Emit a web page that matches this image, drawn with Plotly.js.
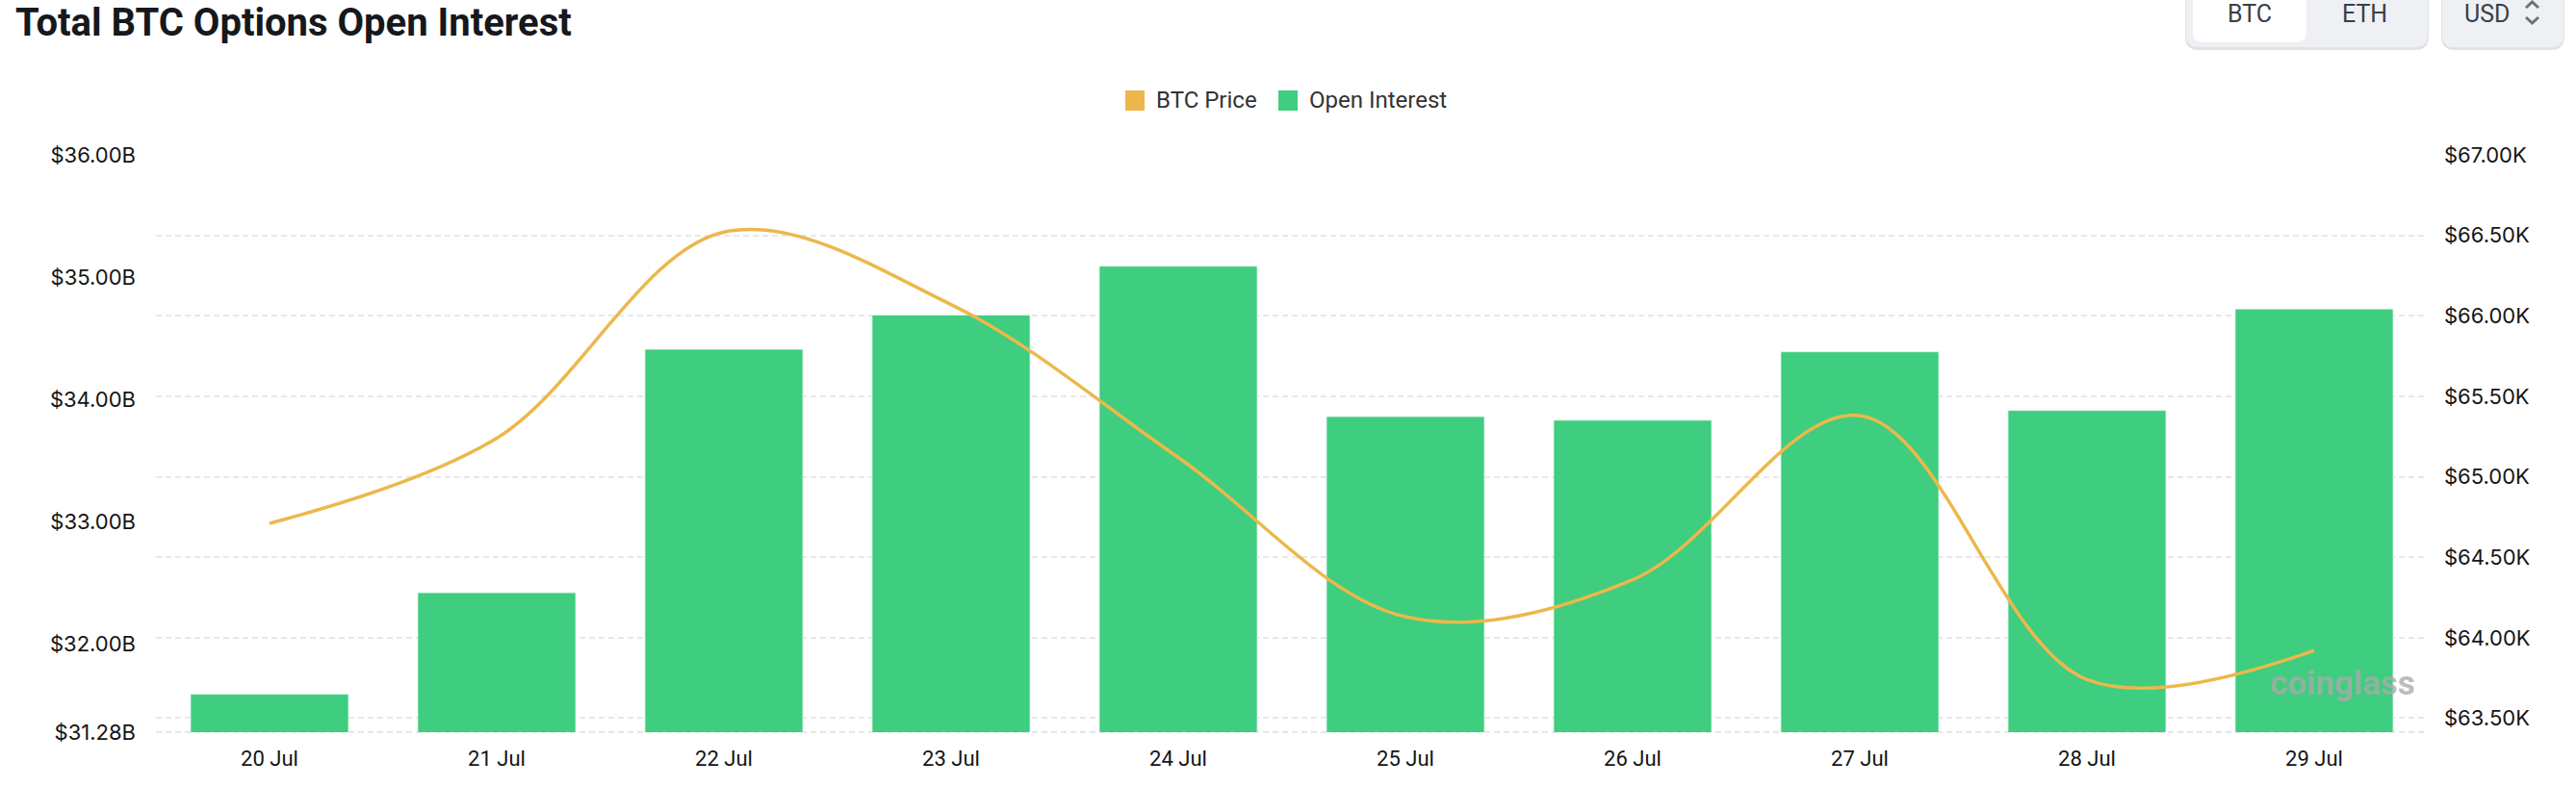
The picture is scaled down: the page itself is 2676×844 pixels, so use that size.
<!DOCTYPE html>
<html>
<head>
<meta charset="utf-8">
<script src="https://cdn.plot.ly/plotly-3.0.1.min.js"></script>
<style>
  html, body { margin: 0; padding: 0; background: #fff; }
  #chart { width: 2676px; height: 844px; }
</style>
</head>
<body>
<div id="chart"></div>
<script>
// ---- data ----
const dates = ["20 Jul", "21 Jul", "22 Jul", "23 Jul", "24 Jul", "25 Jul", "26 Jul", "27 Jul", "28 Jul", "29 Jul"];
const openInterestB = [31.59, 32.42, 34.41, 34.69, 35.09, 33.86, 33.83, 34.39, 33.91, 34.74];   // $ billions
const btcPriceK = [64.71, 65.24, 66.52, 66.07, 65.12, 64.13, 64.36, 65.38, 63.74, 63.92];       // $ thousands
const leftTickVals = [31.28, 32, 33, 34, 35, 36];
const leftTickText = ["$31.28B", "$32.00B", "$33.00B", "$34.00B", "$35.00B", "$36.00B"];
const rightTickVals = [63.5, 64, 64.5, 65, 65.5, 66, 66.5, 67];
const rightTickText = ["$63.50K", "$64.00K", "$64.50K", "$65.00K", "$65.50K", "$66.00K", "$66.50K", "$67.00K"];
const seriesNames = ["BTC Price", "Open Interest"];
const titleText = "Total BTC Options Open Interest";

// ---- layout helpers ----
const W = 2676, H = 844;
const M = { l: 162, r: 154, t: 161, b: 83 };
const PW = W - M.l - M.r, PH = H - M.t - M.b;
const px = x => (x - M.l) / PW;
const py = y => (H - M.b - y) / PH;
function rrect(x0, y0, x1, y1, r) {
  const p = (x, y) => px(x) + ',' + py(y);
  return 'M' + p(x0 + r, y0) + ' L' + p(x1 - r, y0) + ' Q' + p(x1, y0) + ' ' + p(x1, y0 + r) +
    ' L' + p(x1, y1 - r) + ' Q' + p(x1, y1) + ' ' + p(x1 - r, y1) +
    ' L' + p(x0 + r, y1) + ' Q' + p(x0, y1) + ' ' + p(x0, y1 - r) +
    ' L' + p(x0, y0 + r) + ' Q' + p(x0, y0) + ' ' + p(x0 + r, y0) + ' Z';
}
const GREEN = '#3fcd7f', ORANGE = '#ecb84b';
const gridDash = '6px,4px';

const traces = [
  {
    type: 'bar', x: dates, y: openInterestB, name: seriesNames[1],
    marker: { color: GREEN, line: { width: 1, color: 'rgba(220,245,230,0.8)' } },
    yaxis: 'y', showlegend: false, hoverinfo: 'skip'
  },
  {
    type: 'scatter', mode: 'lines', x: dates, y: btcPriceK, name: seriesNames[0],
    line: { color: ORANGE, width: 3.5, shape: 'spline', smoothing: 1 },
    yaxis: 'y2', showlegend: false, hoverinfo: 'skip'
  }
];

const tickFont = { family: 'Inter, Roboto, sans-serif', size: 22, color: '#151515' };

const shapes = [
  // bottom dashed axis line
  { type: 'line', xref: 'paper', yref: 'paper', x0: 0, x1: 1, y0: 0, y1: 0,
    line: { color: '#e6e6e6', width: 2, dash: gridDash }, layer: 'below' },
  // legend squares
  { type: 'rect', xref: 'paper', yref: 'paper', x0: px(1169), x1: px(1189), y0: py(115), y1: py(94),
    fillcolor: ORANGE, line: { width: 0 } },
  { type: 'rect', xref: 'paper', yref: 'paper', x0: px(1328), x1: px(1348), y0: py(115), y1: py(94),
    fillcolor: GREEN, line: { width: 0 } },
  // BTC / ETH toggle group
  { type: 'path', xref: 'paper', yref: 'paper', path: rrect(2270, -14, 2523, 52, 14),
    fillcolor: '#dfe3e8', line: { width: 0 } },
  { type: 'path', xref: 'paper', yref: 'paper', path: rrect(2271, -14, 2522, 49, 13),
    fillcolor: '#eef0f3', line: { width: 0 } },
  { type: 'path', xref: 'paper', yref: 'paper', path: rrect(2278, -14, 2396, 44, 11),
    fillcolor: '#ffffff', line: { width: 0 } },
  // USD selector
  { type: 'path', xref: 'paper', yref: 'paper', path: rrect(2536, -14, 2664, 52, 14),
    fillcolor: '#dfe3e8', line: { width: 0 } },
  { type: 'path', xref: 'paper', yref: 'paper', path: rrect(2537, -14, 2663, 49, 13),
    fillcolor: '#eef0f3', line: { width: 0 } },
  // chevrons
  { type: 'path', xref: 'paper', yref: 'paper',
    path: 'M' + px(2624) + ',' + py(8) + ' L' + px(2630.5) + ',' + py(2) + ' L' + px(2637) + ',' + py(8),
    line: { color: '#6b717c', width: 3 } },
  { type: 'path', xref: 'paper', yref: 'paper',
    path: 'M' + px(2624) + ',' + py(18) + ' L' + px(2630.5) + ',' + py(24) + ' L' + px(2637) + ',' + py(18),
    line: { color: '#6b717c', width: 3 } }
];

const legFont = { family: 'Roboto, sans-serif', size: 24, color: '#333333' };
const btnFont = { family: 'Roboto, sans-serif', size: 25, color: '#3a3f47' };
const annotations = [
  { xref: 'paper', yref: 'paper', x: px(1199), y: py(104), xanchor: 'left', yanchor: 'middle',
    text: seriesNames[0], showarrow: false, font: legFont },
  { xref: 'paper', yref: 'paper', x: px(1358), y: py(104), xanchor: 'left', yanchor: 'middle',
    text: seriesNames[1], showarrow: false, font: legFont },
  { xref: 'paper', yref: 'paper', x: px(2337), y: py(15), xanchor: 'center', yanchor: 'middle',
    text: 'BTC', showarrow: false, font: btnFont },
  { xref: 'paper', yref: 'paper', x: px(2456), y: py(15), xanchor: 'center', yanchor: 'middle',
    text: 'ETH', showarrow: false, font: btnFont },
  { xref: 'paper', yref: 'paper', x: px(2583), y: py(15), xanchor: 'center', yanchor: 'middle',
    text: 'USD', showarrow: false, font: btnFont },
  // watermark
  { xref: 'paper', yref: 'paper', x: px(2356), y: py(710), xanchor: 'left', yanchor: 'middle',
    text: 'coinglass', showarrow: false,
    font: { family: 'Roboto, sans-serif', size: 35, weight: 700, color: 'rgba(170,170,170,0.8)' } }
];

const layout = {
  width: W, height: H,
  margin: M,
  paper_bgcolor: '#ffffff', plot_bgcolor: '#ffffff',
  showlegend: false,
  bargap: 0.305,
  title: {
    text: titleText, xref: 'container', yref: 'container',
    x: 16 / W, xanchor: 'left', y: 1 - 23 / H, yanchor: 'middle',
    font: { family: 'Roboto, sans-serif', size: 40, weight: 700, color: '#16181c' }
  },
  xaxis: {
    type: 'category', showgrid: false, zeroline: false, showline: false, ticks: '',
    tickfont: { family: 'Roboto, sans-serif', size: 22, color: '#151515' },
    ticklabelstandoff: 12, fixedrange: true
  },
  yaxis: {
    range: [31.28, 36], tickvals: leftTickVals, ticktext: leftTickText,
    showgrid: false, zeroline: false, showline: false, ticks: '',
    tickfont: tickFont, ticklabelstandoff: 20, fixedrange: true
  },
  yaxis2: {
    range: [63.413, 67], tickvals: rightTickVals, ticktext: rightTickText,
    overlaying: 'y', side: 'right',
    showgrid: true, gridcolor: '#e8e8e8', gridwidth: 2, griddash: gridDash,
    zeroline: false, showline: false, ticks: '',
    tickfont: tickFont, ticklabelstandoff: 16, fixedrange: true
  },
  shapes: shapes,
  annotations: annotations
};

Plotly.newPlot('chart', traces, layout, { staticPlot: true, displayModeBar: false });
</script>
</body>
</html>
